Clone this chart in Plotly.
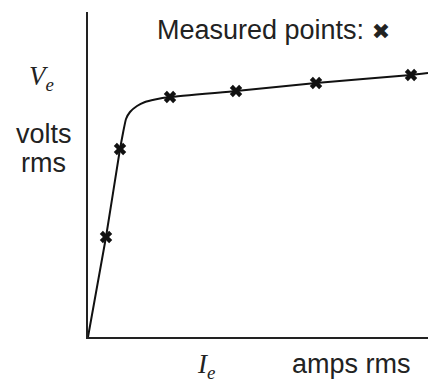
import plotly.graph_objects as go

# Measured points (arbitrary units)
meas_x = [18, 32, 82, 148, 228, 323]
meas_y = [100, 188, 240, 246, 254, 262]

# Smooth characteristic curve
curve_x = [0, 18, 32, 35, 38, 42, 49, 57, 67, 82, 148, 228, 323, 340]
curve_y = [0, 100, 188, 204, 218, 225, 231, 235, 237.5, 240, 246, 254, 262, 264]

W, H = 428, 385
ML, MR, MT, MB = 88, 0, 12, 48
PW, PH = W - ML - MR, H - MT - MB


def px(xp):
    return (xp - ML) / PW


def py(yp):
    return (H - MB - yp) / PH


fig = go.Figure()
fig.add_trace(go.Scatter(x=curve_x, y=curve_y, mode="lines",
                         line=dict(color="#111", width=2, shape="spline", smoothing=0.4),
                         hoverinfo="skip", showlegend=False))
fig.add_trace(go.Scatter(x=meas_x, y=meas_y, mode="markers",
                         marker=dict(symbol="x", size=11, color="#111"),
                         showlegend=False))

sans = "Liberation Sans, Arial, sans-serif"
serif = "Liberation Serif, Times New Roman, serif"
tc = "#222"
ann = [
    dict(text="Measured points: <span style='font-family:DejaVu Sans;font-size:22px'>✖</span>",
         x=px(155), y=py(30), xanchor="left", yanchor="middle",
         font=dict(family=sans, size=27, color=tc)),
    dict(text="<i>V</i><sub><i>e</i></sub>", x=px(41), y=py(78),
         xanchor="center", yanchor="middle", font=dict(family=serif, size=27, color=tc)),
    dict(text="volts", x=px(44), y=py(134),
         xanchor="center", yanchor="middle", font=dict(family=sans, size=27, color=tc)),
    dict(text="rms", x=px(44), y=py(163),
         xanchor="center", yanchor="middle", font=dict(family=sans, size=27, color=tc)),
    dict(text="<i>I</i><sub><i>e</i></sub>", x=px(206), y=py(366),
         xanchor="center", yanchor="middle", font=dict(family=serif, size=27, color=tc)),
    dict(text="amps rms", x=px(351), y=py(364),
         xanchor="center", yanchor="middle", font=dict(family=sans, size=27, color=tc)),
]
for a in ann:
    a.update(xref="paper", yref="paper", showarrow=False)

fig.update_layout(
    width=W, height=H,
    margin=dict(l=ML, r=MR, t=MT, b=MB),
    paper_bgcolor="white", plot_bgcolor="white",
    annotations=ann,
    xaxis=dict(range=[0, PW], showline=True, linecolor="#222", linewidth=2,
               showgrid=False, zeroline=False, showticklabels=False, ticks=""),
    yaxis=dict(range=[0, PH], showline=True, linecolor="#222", linewidth=2,
               showgrid=False, zeroline=False, showticklabels=False, ticks=""),
)
fig.write_html("out.html")
